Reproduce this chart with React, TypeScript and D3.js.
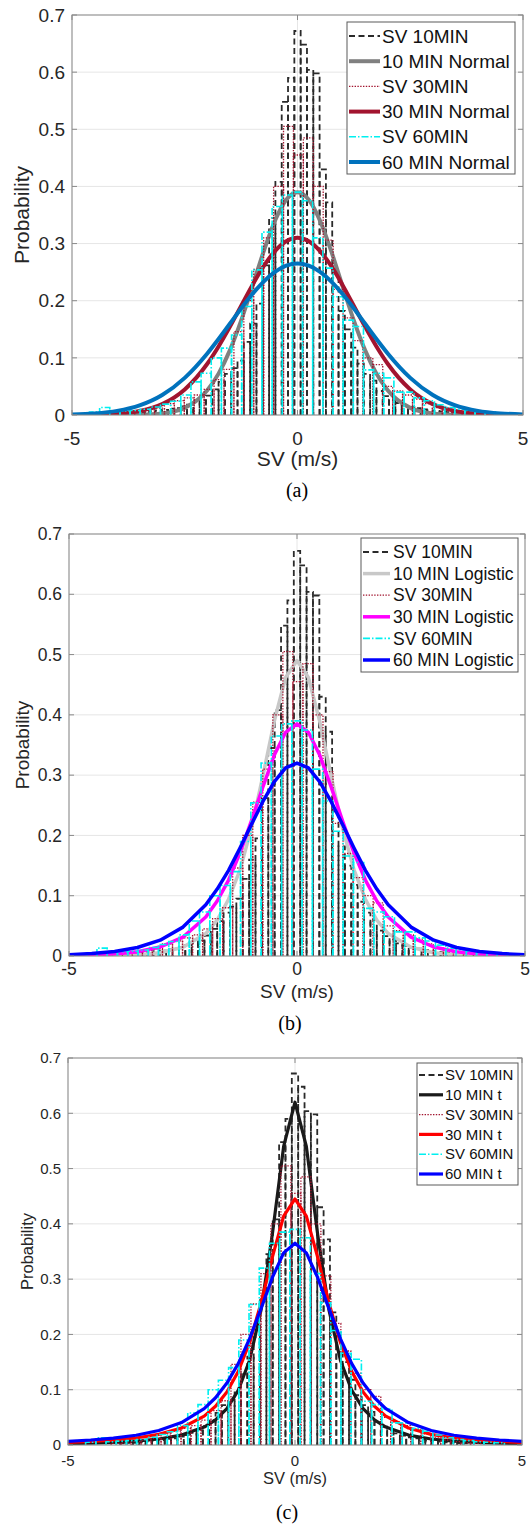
import React from 'react';
import * as d3 from 'd3';

// ---------- data ----------
const xTicks = [-5, 0, 5];
const yTicks = [0, 0.1, 0.2, 0.3, 0.4, 0.5, 0.6, 0.7];

// Histogram SV 10MIN (bin start, bin width, probabilities)
const hist10Start = -3.85;
const hist10Width = 0.14;
const hist10Values = [
  0.003, 0.004, 0.004, 0.005, 0.006, 0.008, 0.009, 0.011, 0.012, 0.015,
  0.018, 0.022, 0.026, 0.034, 0.045, 0.058, 0.072, 0.082, 0.095, 0.128,
  0.160, 0.195, 0.262, 0.345, 0.408, 0.548, 0.590, 0.672, 0.648, 0.604,
  0.598, 0.430, 0.372, 0.240, 0.182, 0.150, 0.118, 0.090, 0.072, 0.060,
  0.042, 0.033, 0.027, 0.021, 0.017, 0.014, 0.012, 0.010, 0.008, 0.007,
  0.006, 0.005, 0.004, 0.003, 0.003,
];

// Histogram SV 30MIN
const hist30Start = -4.05;
const hist30Width = 0.22;
const hist30Values = [
  0.003, 0.004, 0.006, 0.009, 0.012, 0.020, 0.025, 0.030, 0.035, 0.045,
  0.062, 0.080, 0.146, 0.200, 0.255, 0.310, 0.400, 0.505, 0.455, 0.485,
  0.400, 0.306, 0.220, 0.170, 0.130, 0.100, 0.088, 0.050, 0.042, 0.035,
  0.028, 0.020, 0.013, 0.009, 0.006, 0.004, 0.003,
];

// Histogram SV 60MIN
const hist60Start = -4.6125;
const hist60Width = 0.225;
const hist60Values = [
  0.005, 0.013, 0.006, 0.007, 0.008, 0.010, 0.014, 0.019, 0.024, 0.035,
  0.058, 0.073, 0.100, 0.117, 0.140, 0.190, 0.254, 0.320, 0.365, 0.385,
  0.390, 0.375, 0.310, 0.257, 0.207, 0.166, 0.155, 0.079, 0.073, 0.065,
  0.040, 0.040, 0.030, 0.025, 0.018, 0.013, 0.010, 0.008, 0.006, 0.005,
  0.004,
];

// fitted curves, sampled at these SV values
const fitX = [-5, -4.5, -4, -3.5, -3, -2.5, -2, -1.75, -1.5, -1.25, -1, -0.75, -0.5, -0.25, 0,
  0.25, 0.5, 0.75, 1, 1.25, 1.5, 1.75, 2, 2.5, 3, 3.5, 4, 4.5, 5];

const normal10 = [0, 0, 0.0001, 0.0005, 0.0028, 0.0125, 0.0432, 0.0724, 0.1131, 0.1651, 0.2250, 0.2862, 0.3399, 0.3768, 0.39,
  0.3768, 0.3399, 0.2862, 0.2250, 0.1651, 0.1131, 0.0724, 0.0432, 0.0125, 0.0028, 0.0005, 0.0001, 0, 0];
const normal30 = [0.0001, 0.0006, 0.0022, 0.0070, 0.0190, 0.0447, 0.0897, 0.1200, 0.1543, 0.1910, 0.2273, 0.2604, 0.2869, 0.3040, 0.31,
  0.3040, 0.2869, 0.2604, 0.2273, 0.1910, 0.1543, 0.1200, 0.0897, 0.0447, 0.0190, 0.0070, 0.0022, 0.0006, 0.0001];
const normal60 = [0.0010, 0.0028, 0.0072, 0.0168, 0.0350, 0.0650, 0.1077, 0.1330, 0.1597, 0.1865, 0.2116, 0.2335, 0.2505, 0.2613, 0.265,
  0.2613, 0.2505, 0.2335, 0.2116, 0.1865, 0.1597, 0.1330, 0.1077, 0.0650, 0.0350, 0.0168, 0.0072, 0.0028, 0.0010];

const logistic10 = [0.0001, 0.0003, 0.0008, 0.0020, 0.0054, 0.0144, 0.0373, 0.0594, 0.0942, 0.143, 0.212, 0.298, 0.389, 0.462, 0.49,
  0.462, 0.389, 0.298, 0.212, 0.143, 0.0942, 0.0594, 0.0373, 0.0144, 0.0054, 0.0020, 0.0008, 0.0003, 0.0001];
const logistic30 = [0.0007, 0.0015, 0.0032, 0.0070, 0.0149, 0.0314, 0.0646, 0.0912, 0.126, 0.171, 0.224, 0.280, 0.333, 0.371, 0.385,
  0.371, 0.333, 0.280, 0.224, 0.171, 0.126, 0.0912, 0.0646, 0.0314, 0.0149, 0.0070, 0.0032, 0.0015, 0.0007];
const logistic60 = [0.0021, 0.0040, 0.0075, 0.0141, 0.0262, 0.0479, 0.0849, 0.111, 0.142, 0.179, 0.218, 0.256, 0.289, 0.312, 0.32,
  0.312, 0.289, 0.256, 0.218, 0.179, 0.142, 0.111, 0.0849, 0.0479, 0.0262, 0.0141, 0.0075, 0.0040, 0.0021];

const t10 = [0.0025, 0.0034, 0.0048, 0.0070, 0.0108, 0.0179, 0.0324, 0.0454, 0.0658, 0.0987, 0.1533, 0.2433, 0.3805, 0.540, 0.62,
  0.540, 0.3805, 0.2433, 0.1533, 0.0987, 0.0658, 0.0454, 0.0324, 0.0179, 0.0108, 0.0070, 0.0048, 0.0034, 0.0025];
const t30 = [0.0047, 0.0063, 0.0088, 0.0127, 0.0192, 0.0307, 0.0523, 0.0702, 0.0959, 0.1330, 0.1855, 0.2561, 0.3394, 0.4139, 0.445,
  0.4139, 0.3394, 0.2561, 0.1855, 0.1330, 0.0959, 0.0702, 0.0523, 0.0307, 0.0192, 0.0127, 0.0088, 0.0063, 0.0047];
const t60 = [0.0067, 0.0090, 0.0124, 0.0177, 0.0262, 0.0405, 0.0659, 0.0855, 0.1120, 0.1471, 0.1923, 0.2463, 0.3026, 0.3475, 0.365,
  0.3475, 0.3026, 0.2463, 0.1923, 0.1471, 0.1120, 0.0855, 0.0659, 0.0405, 0.0262, 0.0177, 0.0124, 0.0090, 0.0067];

const histNames = ['SV 10MIN', 'SV 30MIN', 'SV 60MIN'];
const normalNames = ['10 MIN Normal', '30 MIN Normal', '60 MIN Normal'];
const logisticNames = ['10 MIN Logistic', '30 MIN Logistic', '60 MIN Logistic'];
const tNames = ['10 MIN t', '30 MIN t', '60 MIN t'];

// ---------- styles ----------
const FONT = '"Liberation Sans", Arial, Helvetica, sans-serif';
const histStyles = [
  { stroke: '#2a2a2a', width: 1.8, dash: '6 3.5' },
  { stroke: '#a2142f', width: 1.3, dash: '1.4 1.4' },
  { stroke: '#00f0f0', width: 1.6, dash: '7 2 1.5 2' },
];

type PanelCfg = {
  left: number; right: number; top: number; bottom: number;
  tickFont: number; labelFont: number; legendFont: number;
  ylabelX: number; xtickY: number; xlabelY: number; captionY: number; captionX: number;
  caption: string;
  legend: { x0: number; x1: number; y0: number; y1: number; row0: number; rowH: number; lx0: number; lx1: number; tx: number };
  fits: number[][]; fitNames: string[]; fitColors: string[]; fitWidth: number; smooth: boolean;
};

const panels: PanelCfg[] = [
  {
    left: 72, right: 523, top: 15, bottom: 415,
    tickFont: 19, labelFont: 21, legendFont: 19,
    ylabelX: 22, xtickY: 438, xlabelY: 459, captionY: 490, captionX: 297, caption: '(a)',
    legend: { x0: 347, x1: 515, y0: 22, y1: 174, row0: 36, rowH: 25.2, lx0: 349, lx1: 380, tx: 382 },
    fits: [normal10, normal30, normal60], fitNames: normalNames,
    fitColors: ['#808080', '#a2142f', '#0072bd'], fitWidth: 4, smooth: true,
  },
  {
    left: 69, right: 525, top: 534, bottom: 956,
    tickFont: 17.5, labelFont: 19, legendFont: 17.5,
    ylabelX: 22, xtickY: 969, xlabelY: 991, captionY: 1023, captionX: 290, caption: '(b)',
    legend: { x0: 361, x1: 518, y0: 538, y1: 672, row0: 552, rowH: 21.6, lx0: 363, lx1: 390, tx: 393 },
    fits: [logistic10, logistic30, logistic60], fitNames: logisticNames,
    fitColors: ['#c8c8c8', '#ff00ff', '#0000ff'], fitWidth: 3.5, smooth: false,
  },
  {
    left: 68, right: 522, top: 1058, bottom: 1445,
    tickFont: 15, labelFont: 16.5, legendFont: 15,
    ylabelX: 27, xtickY: 1461, xlabelY: 1478, captionY: 1512, captionX: 287, caption: '(c)',
    legend: { x0: 417, x1: 518, y0: 1063, y1: 1185, row0: 1075, rowH: 19.8, lx0: 419, lx1: 443, tx: 445 },
    fits: [t10, t30, t60], fitNames: tNames,
    fitColors: ['#1a1a1a', '#ff0000', '#0000ff'], fitWidth: 3.2, smooth: false,
  },
];

const hists = [
  { start: hist10Start, width: hist10Width, values: hist10Values },
  { start: hist30Start, width: hist30Width, values: hist30Values },
  { start: hist60Start, width: hist60Width, values: hist60Values },
];

function Histogram({ h, style, x, y }: any) {
  const y0 = y(0);
  return (
    <g fill="none" stroke={style.stroke} strokeWidth={style.width} strokeDasharray={style.dash}>
      {h.values.map((v: number, i: number) => {
        const a = x(h.start + i * h.width);
        const b = x(h.start + (i + 1) * h.width);
        const p = d3.path();
        p.moveTo(a, y0);
        p.lineTo(a, y(v));
        p.lineTo(b, y(v));
        p.lineTo(b, y0);
        return <path key={i} d={p.toString()} />;
      })}
    </g>
  );
}

function Panel({ cfg, idx }: { cfg: PanelCfg; idx: number }) {
  const x = d3.scaleLinear().domain([-5, 5]).range([cfg.left, cfg.right]);
  const y = d3.scaleLinear().domain([0, 0.7]).range([cfg.bottom, cfg.top]);
  const line = d3.line<number>()
    .x((_, i) => x(fitX[i]))
    .y((d) => y(d))
    .curve(cfg.smooth ? d3.curveMonotoneX : d3.curveLinear);
  const clipId = `clip${idx}`;
  const axisColor = '#8a8a8a';
  const textColor = '#262626';
  const tick = 5;
  const L = cfg.legend;
  const legendEntries = [0, 1, 2].flatMap((k) => [
    { name: histNames[k], kind: 'hist', k },
    { name: cfg.fitNames[k], kind: 'fit', k },
  ]);
  return (
    <g>
      <defs>
        <clipPath id={clipId}>
          <rect x={cfg.left} y={cfg.top} width={cfg.right - cfg.left} height={cfg.bottom - cfg.top} />
        </clipPath>
      </defs>
      {/* grid */}
      <g stroke="#e6e6e6" strokeWidth={1}>
        {yTicks.map((t) => (
          <line key={'gy' + t} x1={cfg.left} x2={cfg.right} y1={y(t)} y2={y(t)} />
        ))}
        {xTicks.map((t) => (
          <line key={'gx' + t} x1={x(t)} x2={x(t)} y1={cfg.top} y2={cfg.bottom} />
        ))}
      </g>
      {/* data */}
      <g clipPath={`url(#${clipId})`}>
        {[0, 1, 2].map((k) => (
          <g key={k}>
            <Histogram h={hists[k]} style={histStyles[k]} x={x} y={y} />
            <path d={line(cfg.fits[k]) || ''} fill="none" stroke={cfg.fitColors[k]} strokeWidth={cfg.fitWidth} strokeLinejoin="round" />
          </g>
        ))}
      </g>
      {/* box + ticks */}
      <rect x={cfg.left} y={cfg.top} width={cfg.right - cfg.left} height={cfg.bottom - cfg.top} fill="none" stroke={axisColor} strokeWidth={1} />
      <g stroke={axisColor} strokeWidth={1}>
        {yTicks.map((t) => (
          <g key={'ty' + t}>
            <line x1={cfg.left} x2={cfg.left + tick} y1={y(t)} y2={y(t)} />
            <line x1={cfg.right} x2={cfg.right - tick} y1={y(t)} y2={y(t)} />
          </g>
        ))}
        {xTicks.map((t) => (
          <g key={'tx' + t}>
            <line x1={x(t)} x2={x(t)} y1={cfg.bottom} y2={cfg.bottom - tick} />
            <line x1={x(t)} x2={x(t)} y1={cfg.top} y2={cfg.top + tick} />
          </g>
        ))}
      </g>
      <g fontFamily={FONT} fontSize={cfg.tickFont} fill={textColor}>
        {yTicks.map((t) => (
          <text key={'ly' + t} x={cfg.left - 7} y={y(t)} dy="0.35em" textAnchor="end">{d3.format('.1~f')(t)}</text>
        ))}
        {xTicks.map((t) => (
          <text key={'lx' + t} x={x(t)} y={cfg.xtickY} dy="0.35em" textAnchor="middle">{t}</text>
        ))}
      </g>
      <text x={(cfg.left + cfg.right) / 2} y={cfg.xlabelY} dy="0.35em" textAnchor="middle" fontFamily={FONT} fontSize={cfg.labelFont} fill={textColor}>SV (m/s)</text>
      <text transform={`translate(${cfg.ylabelX},${(cfg.top + cfg.bottom) / 2}) rotate(-90)`} dy="0.35em" textAnchor="middle" fontFamily={FONT} fontSize={cfg.labelFont} fill={textColor}>Probability</text>
      {/* legend */}
      <rect x={L.x0} y={L.y0} width={L.x1 - L.x0} height={L.y1 - L.y0} fill="#ffffff" stroke="#5a5a5a" strokeWidth={1} />
      {legendEntries.map((e, i) => {
        const ry = L.row0 + i * L.rowH;
        const st = e.kind === 'hist'
          ? { stroke: histStyles[e.k].stroke, width: histStyles[e.k].width, dash: histStyles[e.k].dash }
          : { stroke: cfg.fitColors[e.k], width: cfg.fitWidth, dash: undefined };
        return (
          <g key={'lg' + i}>
            <line x1={L.lx0} x2={L.lx1} y1={ry} y2={ry} stroke={st.stroke} strokeWidth={st.width} strokeDasharray={st.dash} />
            <text x={L.tx} y={ry} dy="0.35em" fontFamily={FONT} fontSize={cfg.legendFont} fill="#111">{e.name}</text>
          </g>
        );
      })}
      <text x={cfg.captionX} y={cfg.captionY} dy="0.35em" textAnchor="middle" fontFamily='"Liberation Serif", "Times New Roman", serif' fontSize={20} fill="#000">{cfg.caption}</text>
    </g>
  );
}

export default function App() {
  return (
    <svg width={531} height={1536} viewBox="0 0 531 1536" style={{ position: 'absolute', left: 0, top: 0, background: '#fff' }}>
      <rect x={0} y={0} width={531} height={1536} fill="#fff" />
      {panels.map((p, i) => (
        <Panel key={i} cfg={p} idx={i} />
      ))}
    </svg>
  );
}
